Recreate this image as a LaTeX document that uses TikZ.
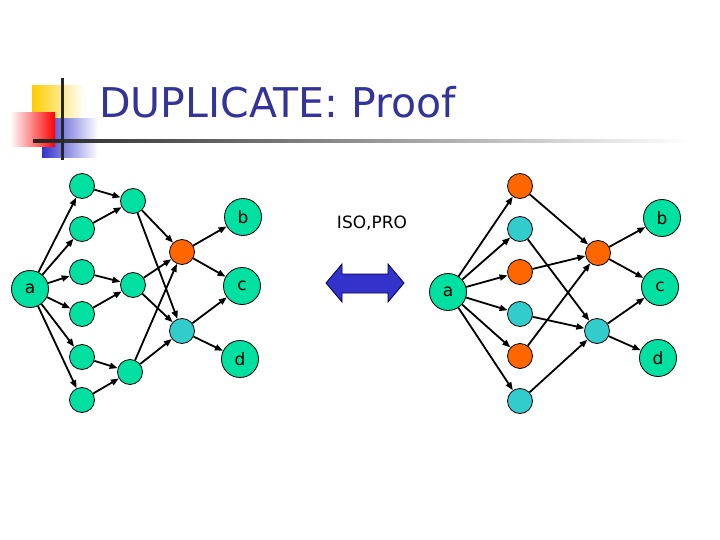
\documentclass[tikz,border=0pt]{standalone}
\usepackage{fontspec}
\setmainfont{DejaVu Sans}
\usepackage{xcolor}
\usepackage{tikz}
\usetikzlibrary{arrows.meta,calc}
\definecolor{nodegreen}{RGB}{0,224,160}
\definecolor{nodeorange}{RGB}{255,102,0}
\definecolor{nodecyan}{RGB}{51,204,204}
\definecolor{titleblue}{RGB}{51,51,153}
\definecolor{swapblue}{RGB}{51,51,204}
\definecolor{logoyellow}{RGB}{255,204,0}
\tikzset{
bignode/.style={
draw,
circle,
line width=0.8pt,
minimum size=37pt,
inner sep=0pt,
fill=nodegreen,
font=\fontsize{17}{17}\selectfont
},
smallnode/.style={
draw,
circle,
line width=0.8pt,
minimum size=25pt,
inner sep=0pt,
fill=nodegreen
},
arrow/.style={
-{Triangle[length=8pt,width=6pt]},
line width=1.8pt
}
}

\begin{document}
\begin{tikzpicture}[x=1pt,y=-1pt]
\useasboundingbox (0,0) rectangle (720,540);

% logo and title
\shade[left color=logoyellow,middle color=logoyellow!85,right color=white] (32,86) rectangle (84,120);
\shade[left color=swapblue,middle color=swapblue!80,right color=white] (42,119) rectangle (98,158);
\shade[left color=white,right color=red] (10,113) rectangle (55,147);
\shade[left color=black!85,right color=white] (33,139.5) rectangle (690,142.5);
\fill[black!85] (33,139.5) rectangle (62,142.5);
\fill[black!85] (60.5,78) rectangle (63.5,160);
\node[anchor=base west,text=titleblue,font=\fontsize{41}{41}\selectfont,inner sep=0pt](title) at (99,118){DUPLICATE: Proof};

% left graph
\node[bignode](la) at (30,289){a};
\node[smallnode](l1) at (82,186){};
\node[smallnode](l2) at (82,229){};
\node[smallnode](l3) at (82,272){};
\node[smallnode](l4) at (82,314){};
\node[smallnode](l5) at (82,357){};
\node[smallnode](l6) at (82,400){};
\node[smallnode](lm1) at (133,201){};
\node[smallnode](lm2) at (133,285){};
\node[smallnode](lm3) at (130,372){};
\node[smallnode,fill=nodeorange](lo) at (182,252){};
\node[smallnode,fill=nodecyan](lc) at (182,331){};
\node[bignode](lb) at (243,217){b};
\node[bignode](lcc) at (242,286){c};
\node[bignode](ld) at (240,359){d};

\foreach \i in {1,...,6}
\draw[arrow](la)--(l\i);
\draw[arrow](l1)--(lm1);
\draw[arrow](l2)--(lm1);
\draw[arrow](l3)--(lm2);
\draw[arrow](l4)--(lm2);
\draw[arrow](l5)--(lm3);
\draw[arrow](l6)--(lm3);
\draw[arrow](lm1)--(lo);
\draw[arrow](lm1)--(lc);
\draw[arrow](lm2)--(lo);
\draw[arrow](lm2)--(lc);
\draw[arrow](lm3)--(lo);
\draw[arrow](lm3)--(lc);
\draw[arrow](lo)--(lb);
\draw[arrow](lo)--(lcc);
\draw[arrow](lc)--(lcc);
\draw[arrow](lc)--(ld);

% middle
\node[font=\fontsize{17}{17}\selectfont](isopro) at (372,223){ISO,PRO};
\draw[fill=swapblue,line width=0.8pt,draw=black!70!blue]
(326,283)--(342,264)--(342,274)--(388,274)--(388,264)--(404,283)
--(388,302)--(388,293)--(342,293)--(342,302)--cycle;

% right graph
\node[bignode](ra) at (448,292){a};
\node[smallnode,fill=nodeorange](r1) at (520,186){};
\node[smallnode,fill=nodecyan](r2) at (520,229){};
\node[smallnode,fill=nodeorange](r3) at (520,272){};
\node[smallnode,fill=nodecyan](r4) at (520,314){};
\node[smallnode,fill=nodeorange](r5) at (520,356){};
\node[smallnode,fill=nodecyan](r6) at (520,401){};
\node[smallnode,fill=nodeorange](ro) at (598,253){};
\node[smallnode,fill=nodecyan](rc) at (597,331){};
\node[bignode](rb) at (662,218){b};
\node[bignode](rcc) at (660,287){c};
\node[bignode](rd) at (658,358){d};

\foreach \i in {1,...,6}
\draw[arrow](ra)--(r\i);
\draw[arrow](r1)--(ro);
\draw[arrow](r3)--(ro);
\draw[arrow](r5)--(ro);
\draw[arrow](r2)--(rc);
\draw[arrow](r4)--(rc);
\draw[arrow](r6)--(rc);
\draw[arrow](ro)--(rb);
\draw[arrow](ro)--(rcc);
\draw[arrow](rc)--(rcc);
\draw[arrow](rc)--(rd);
\end{tikzpicture}
\end{document}
